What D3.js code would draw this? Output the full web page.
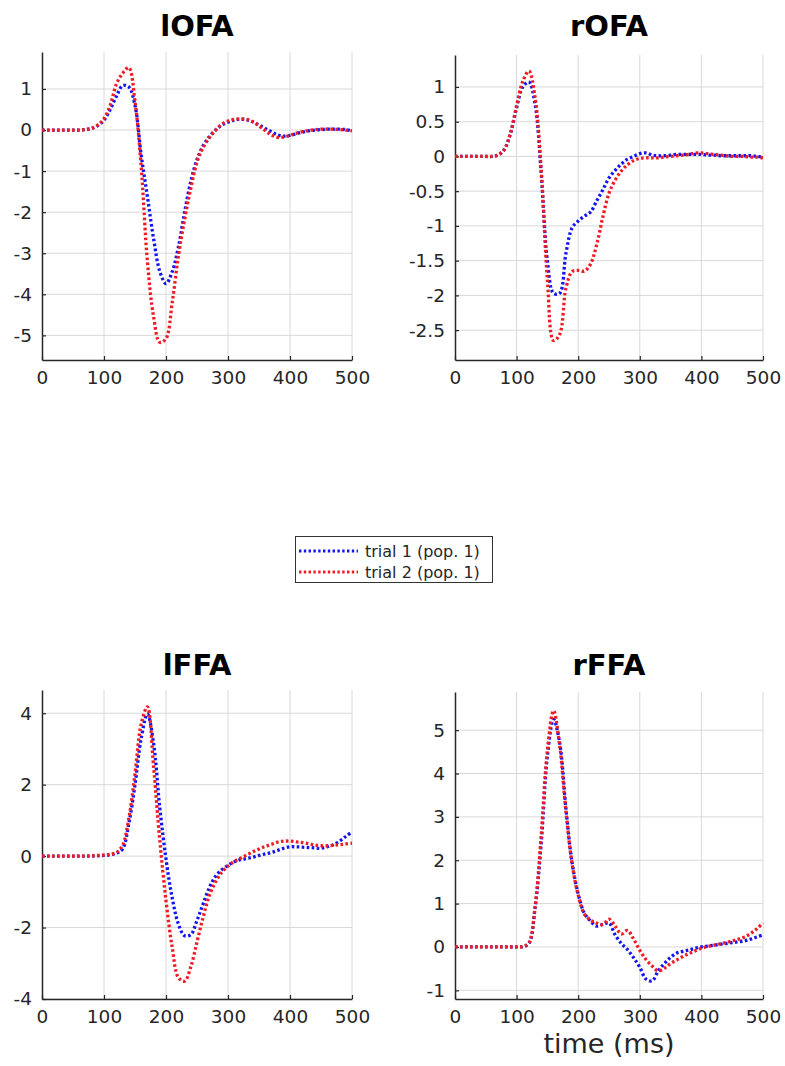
<!DOCTYPE html>
<html>
<head>
<meta charset="utf-8">
<script src="https://cdn.jsdelivr.net/npm/d3@7"></script>
<style>
    body { margin: 0; background: #fff; }
    svg text { font-family: "DejaVu Sans", sans-serif; }
</style>
</head>
<body>
<svg id="figure" width="785" height="1066"></svg>
<script>
// sample times (ms) shared by every trace
const time_ms = d3.range(0, 501, 10);
const time_ticks = [0, 100, 200, 300, 400, 500];

const trial_labels = ["trial 1 (pop. 1)", "trial 2 (pop. 1)"];
const trial_colors = ["#1414f0", "#f01c24"];

const lofa_trial1 = [0, 0, 0, 0, 0, 0, 0,
    0.01, 0.04, 0.11, 0.24, 0.5, 0.82, 1.08, 1.05, 0.6, -0.61,
    -1.62, -2.65, -3.44, -3.74, -3.45, -2.85, -2.0, -1.25, -0.72, -0.38,
    -0.16, 0.0, 0.12, 0.19, 0.24, 0.26, 0.25, 0.2, 0.12, 0.04,
    -0.04, -0.12, -0.15, -0.13, -0.09, -0.05, -0.02, 0.0, 0.01, 0.02,
    0.02, 0.02, 0.01, -0.02];
const lofa_trial2 = [0, 0, 0, 0, 0, 0, 0,
    0.01, 0.04, 0.12, 0.28, 0.6, 1.12, 1.38, 1.52, 0.7, -0.9,
    -3.2, -4.55, -5.17, -5.08, -4.2, -3.07, -2.18, -1.42, -0.78, -0.42,
    -0.19, 0.0, 0.14, 0.22, 0.26, 0.27, 0.26, 0.2, 0.1, -0.01,
    -0.12, -0.18, -0.17, -0.13, -0.08, -0.04, -0.01, 0.01, 0.02, 0.02,
    0.02, 0.01, 0.0, -0.02];

const rofa_trial1 = [0, 0, 0, 0, 0, 0, 0,
    0.02, 0.1, 0.33, 0.7, 1.0, 1.07, 0.75, -0.25, -1.5, -1.97,
    -1.97, -1.4, -1.03, -0.93, -0.86, -0.8, -0.64, -0.48, -0.31, -0.2,
    -0.11, -0.04, 0.0, 0.04, 0.05, 0.02, 0.01, 0.01, 0.02, 0.03,
    0.03, 0.03, 0.03, 0.03, 0.02, 0.02, 0.01, 0.01, 0.01, 0.01,
    0.01, 0.01, 0.0, -0.01];
const rofa_trial2 = [0, 0, 0, 0, 0, 0, 0,
    0.02, 0.1, 0.33, 0.73, 1.08, 1.23, 0.85, -0.2, -1.78, -2.65,
    -2.56, -1.9, -1.66, -1.64, -1.65, -1.55, -1.27, -0.87, -0.53, -0.34,
    -0.21, -0.12, -0.06, -0.03, -0.02, -0.02, -0.02, -0.01, 0.0, 0.01,
    0.02, 0.03, 0.05, 0.05, 0.04, 0.03, 0.02, 0.01, 0.0, 0.0,
    0.0, -0.01, -0.01, -0.02];

const lffa_trial1 = [0, 0, 0, 0, 0, 0, 0, 0, 0,
    0.01, 0.02, 0.04, 0.08, 0.2, 0.9, 2.0, 3.3, 3.98, 3.15,
    1.35, -0.08, -1.17, -1.9, -2.23, -2.2, -1.8, -1.33, -0.88, -0.56,
    -0.38, -0.26, -0.16, -0.1, -0.07, -0.03, 0.02, 0.06, 0.1, 0.16,
    0.22, 0.26, 0.26, 0.25, 0.24, 0.23, 0.22, 0.26, 0.32, 0.42,
    0.55, 0.68];
const lffa_trial2 = [0, 0, 0, 0, 0, 0, 0, 0,
    0.01, 0.02, 0.03, 0.05, 0.1, 0.3, 1.05, 2.3, 3.7, 4.18,
    2.5, 0.44, -1.25, -2.55, -3.4, -3.5, -3.1, -2.4, -1.7, -1.1,
    -0.72, -0.45, -0.28, -0.15, -0.06, 0.03, 0.12, 0.2, 0.27, 0.33,
    0.39, 0.42, 0.42, 0.4, 0.38, 0.35, 0.31, 0.29, 0.29, 0.3,
    0.32, 0.34, 0.36];

const rffa_trial1 = [0, 0, 0, 0, 0, 0, 0, 0, 0, 0, 0,
    0.01, 0.08, 0.9, 2.4, 4.4, 5.25, 4.7, 3.2, 1.95, 1.22,
    0.78, 0.6, 0.48, 0.52, 0.55, 0.28, 0.08, -0.06, -0.25, -0.47,
    -0.74, -0.78, -0.55, -0.38, -0.24, -0.14, -0.1, -0.07, -0.03, 0.0,
    0.02, 0.04, 0.06, 0.08, 0.1, 0.12, 0.14, 0.18, 0.23, 0.28];
const rffa_trial2 = [0, 0, 0, 0, 0, 0, 0, 0, 0, 0, 0,
    0.01, 0.1, 0.92, 2.58, 4.54, 5.45, 4.63, 3.14, 1.92, 1.2,
    0.76, 0.62, 0.55, 0.52, 0.64, 0.48, 0.3, 0.38, 0.18, -0.08,
    -0.29, -0.44, -0.55, -0.49, -0.38, -0.3, -0.22, -0.15, -0.09, -0.03,
    0.01, 0.04, 0.07, 0.1, 0.14, 0.18, 0.23, 0.31, 0.42, 0.55];

const region_names = ["lOFA", "rOFA", "lFFA", "rFFA"];
const region_traces = [
    [lofa_trial1, lofa_trial2],
    [rofa_trial1, rofa_trial2],
    [lffa_trial1, lffa_trial2],
    [rffa_trial1, rffa_trial2]
];
const region_y_domains = [[-5.6, 1.9], [-2.93, 1.46], [-4, 4.65], [-1.2, 5.88]];
const region_y_ticks = [
    [-5, -4, -3, -2, -1, 0, 1],
    [-2.5, -2, -1.5, -1, -0.5, 0, 0.5, 1],
    [-4, -2, 0, 2, 4],
    [-1, 0, 1, 2, 3, 4, 5]
];

// pixel frames of the four axes (2 x 2 grid)
const frames = [
    {left: 42, right: 352, top: 52, bottom: 360, title_y: 36},
    {left: 455, right: 763, top: 55, bottom: 360, title_y: 36},
    {left: 42, right: 352, top: 690, bottom: 999, title_y: 675},
    {left: 455, right: 763, top: 692, bottom: 999, title_y: 675}
];

class RegionPanel {
    constructor(canvas, frame) {
        this.canvas = canvas;
        this.frame = frame;
    }

    draw(name, traces, y_domain, y_ticks) {
        let f = this.frame;
        let x = d3.scaleLinear().domain([0, 500]).range([f.left, f.right]);
        let y = d3.scaleLinear().domain(y_domain).range([f.bottom, f.top]);
        let g = this.canvas.append("g").attr("class", "panel");

        // grid
        g.append("g").selectAll("line")
            .data(time_ticks.slice(1))
            .enter()
            .append("line")
            .attr("x1", d => x(d)).attr("x2", d => x(d))
            .attr("y1", f.top).attr("y2", f.bottom)
            .attr("stroke", "#d8d8d8")
            .attr("stroke-width", 1);

        g.append("g").selectAll("line")
            .data(y_ticks)
            .enter()
            .append("line")
            .attr("x1", f.left).attr("x2", f.right)
            .attr("y1", d => y(d)).attr("y2", d => y(d))
            .attr("stroke", "#d8d8d8")
            .attr("stroke-width", 1);

        // axes
        let x_axis = g.append("g")
            .attr("transform", "translate(0," + f.bottom + ")")
            .call(d3.axisBottom(x)
                .tickValues(time_ticks)
                .tickFormat(d => String(d))
                .tickSizeInner(-4)
                .tickSizeOuter(0)
                .tickPadding(11));

        let y_axis = g.append("g")
            .attr("transform", "translate(" + f.left + ",0)")
            .call(d3.axisLeft(y)
                .tickValues(y_ticks)
                .tickFormat(d => String(d))
                .tickSizeInner(-4)
                .tickSizeOuter(0)
                .tickPadding(10));

        [x_axis, y_axis].forEach(function (a) {
            a.select(".domain").attr("stroke", "#262626").attr("stroke-width", 1.5);
            a.selectAll(".tick line").attr("stroke", "#262626").attr("stroke-width", 1.2);
            a.selectAll(".tick text")
                .attr("fill", "#262626")
                .style("font-size", "18.5px");
        });

        // traces, trial 2 drawn over trial 1
        let line = d3.line()
            .x((d, i) => x(time_ms[i]))
            .y(d => y(d))
            .curve(d3.curveCatmullRom.alpha(0.5));

        g.append("g").selectAll("path")
            .data(traces)
            .enter()
            .append("path")
            .attr("d", d => line(d))
            .attr("fill", "none")
            .attr("stroke", (d, i) => trial_colors[i])
            .attr("stroke-width", 3.3)
            .attr("stroke-dasharray", "2.6 2.4");

        g.append("text")
            .attr("x", (f.left + f.right) / 2)
            .attr("y", f.title_y)
            .attr("text-anchor", "middle")
            .style("font-size", "29px")
            .style("font-weight", "bold")
            .attr("fill", "#000")
            .text(name);

        return g;
    }
}

let svg = d3.select("#figure");

for (let i = 0; i < region_names.length; i++) {
    let panel = new RegionPanel(svg, frames[i]);
    panel.draw(region_names[i], region_traces[i], region_y_domains[i], region_y_ticks[i]);
}

// x label under the last panel only
svg.append("text")
    .attr("x", (frames[3].left + frames[3].right) / 2)
    .attr("y", 1053)
    .attr("text-anchor", "middle")
    .style("font-size", "27px")
    .attr("fill", "#262626")
    .text("time (ms)");

// legend
let legend = svg.append("g").attr("class", "legend");
legend.append("rect")
    .attr("x", 295.5).attr("y", 536.5)
    .attr("width", 197).attr("height", 46)
    .attr("fill", "#fff")
    .attr("stroke", "#333")
    .attr("stroke-width", 1);

let rows = legend.selectAll(".row")
    .data(trial_labels)
    .enter()
    .append("g")
    .attr("class", "row")
    .attr("transform", (d, i) => "translate(0," + (551 + i * 21) + ")");

rows.append("line")
    .attr("x1", 299).attr("x2", 358)
    .attr("y1", 0).attr("y2", 0)
    .attr("stroke", (d, i) => trial_colors[i])
    .attr("stroke-width", 3.2)
    .attr("stroke-dasharray", "2.4 2.4");

rows.append("text")
    .attr("x", 365)
    .attr("dy", "0.35em")
    .style("font-size", "16px")
    .attr("fill", "#262626")
    .text(d => d);
</script>
</body>
</html>
